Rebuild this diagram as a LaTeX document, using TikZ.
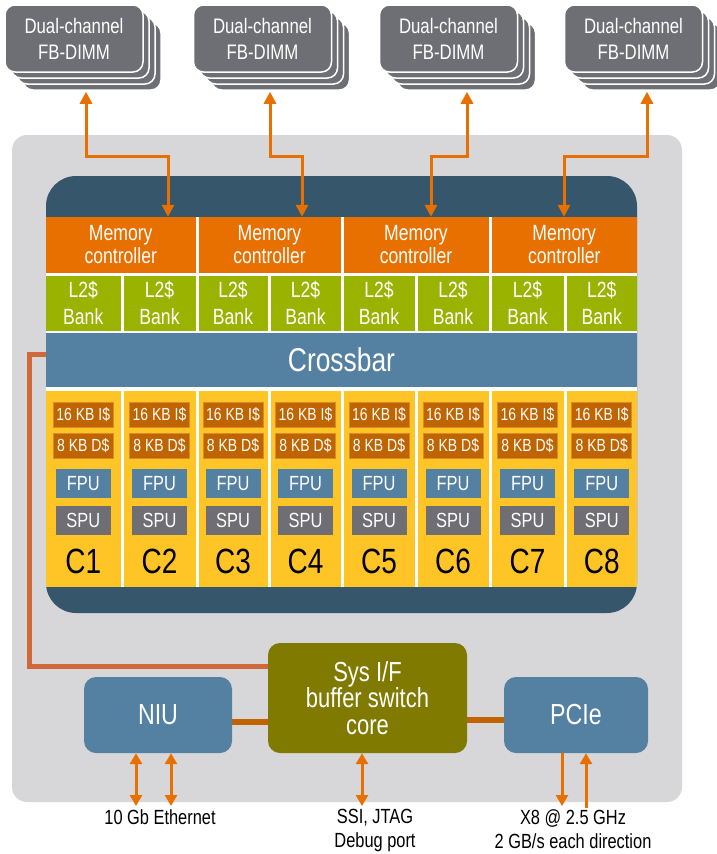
\documentclass[tikz,border=0pt]{standalone}
\usepackage{fontspec}
\setmainfont{Liberation Sans}[FakeStretch=0.8]
\usetikzlibrary{arrows.meta, shadows}

\definecolor{pkggrey}{RGB}{215,215,218}
\definecolor{panelblue}{RGB}{54,86,108}
\definecolor{mcorange}{RGB}{232,112,0}
\definecolor{l2green}{RGB}{153,179,0}
\definecolor{xbarblue}{RGB}{84,128,162}
\definecolor{coreyellow}{RGB}{255,196,38}
\definecolor{cacheorange}{RGB}{192,100,0}
\definecolor{cacheedge}{RGB}{214,140,40}
\definecolor{spugrey}{RGB}{110,110,116}
\definecolor{dimmgrey}{RGB}{110,111,116}
\definecolor{sysolive}{RGB}{128,122,0}
\definecolor{wireorange}{RGB}{232,112,0}
\definecolor{sidewire}{RGB}{208,104,58}
\definecolor{busbrown}{RGB}{192,100,0}

\tikzset{
  dimm/.style = {rectangle, rounded corners=10pt, fill=dimmgrey, draw=white, line width=1.5pt,
    minimum width=138pt, minimum height=67pt, inner sep=0pt, text=white, align=center,
    font=\fontsize{21}{26}\selectfont,
    copy shadow={shadow xshift=18pt, shadow yshift=-18pt},
    copy shadow={shadow xshift=12pt, shadow yshift=-12pt},
    copy shadow={shadow xshift=6pt, shadow yshift=-6pt}},
  cell/.style = {rectangle, inner sep=0pt, text=white, align=center},
  mcbox/.style = {cell, fill=mcorange, minimum height=56pt, font=\fontsize{22}{23}\selectfont},
  l2box/.style = {cell, fill=l2green, minimum height=55pt, font=\fontsize{22}{27}\selectfont},
  xbarbox/.style = {cell, fill=xbarblue, minimum width=591pt, minimum height=54pt, font=\fontsize{33}{36}\selectfont},
  corebox/.style = {cell, fill=coreyellow, minimum height=196pt},
  cachebox/.style = {cell, fill=cacheorange, draw=cacheedge, line width=0.8pt,
    minimum width=60pt, minimum height=25pt, font=\fontsize{17.5}{18}\selectfont},
  fpubox/.style = {cell, fill=xbarblue, minimum width=55pt, minimum height=29pt, font=\fontsize{20.5}{21}\selectfont},
  spubox/.style = {cell, fill=spugrey, minimum width=55pt, minimum height=29pt, font=\fontsize{20.5}{21}\selectfont},
  corelabel/.style = {inner sep=0pt, text=black, font=\fontsize{35}{36}\selectfont},
  iobox/.style = {cell, fill=xbarblue, rounded corners=12pt, minimum width=148pt, minimum height=76pt,
    font=\fontsize{29}{30}\selectfont},
  sysbox/.style = {cell, fill=sysolive, rounded corners=12pt, minimum width=199pt, minimum height=110pt,
    font=\fontsize{27.5}{26.5}\selectfont},
  iolabel/.style = {inner sep=0pt, anchor=north, align=center, text=black, font=\fontsize{20.5}{24}\selectfont},
  memlink/.style = {draw=wireorange, line width=3pt, {Triangle[width=12pt,length=12pt]}-{Triangle[width=12pt,length=12pt]}},
  iolink/.style = {draw=wireorange, line width=3pt, >={Triangle[width=12pt,length=11pt]}},
  sidelink/.style = {draw=sidewire, line width=5pt},
  buslink/.style = {draw=busbrown, line width=6pt}
}

\begin{document}
\begin{tikzpicture}[x=1pt, y=-1pt]
  \useasboundingbox (0,0) rectangle (717,854);
  % package and die
  \fill [pkggrey, rounded corners=15pt] (12,135) rectangle (682,802);
  \fill [panelblue, rounded corners=30pt] (46,176) rectangle (637,613);
  \fill [white] (46,217) rectangle (637,587);

  % memory modules
  \foreach \k/\cx in {1/74, 2/262.5, 3/448.5, 4/633.5}
    \node [dimm] (dimm\k) at (\cx, 38.5) {Dual-channel\\FB-DIMM};

  % memory controllers
  \foreach \k/\xl/\xr in {1/46/195.5, 2/198.5/340.5, 3/343.5/488.5, 4/491.5/637}
    \node [mcbox, minimum width={(\xr-\xl)*1pt}] (mc\k) at ({(\xl+\xr)/2}, 245) {Memory\\controller};

  % L2 banks and cores
  \foreach \k/\xl/\xr in {1/46/120.5, 2/123.5/195.5, 3/198.5/267.5, 4/270.5/340.5,
                          5/343.5/414.5, 6/417.5/488.5, 7/491.5/563.5, 8/566.5/637} {
    \pgfmathsetmacro{\cx}{(\xl+\xr)/2}
    \node [l2box, minimum width={(\xr-\xl)*1pt}] (l2\k) at (\cx, 303) {L2\$\\Bank};
    \node [corebox, minimum width={(\xr-\xl)*1pt}] (core\k) at (\cx, 489) {};
    \node [cachebox] (ic\k) at (\cx, 414.5) {16 KB I\$};
    \node [cachebox] (dc\k) at (\cx, 445.5) {8 KB D\$};
    \node [fpubox] (fpu\k) at (\cx, 483.5) {FPU};
    \node [spubox] (spu\k) at (\cx, 520.5) {SPU};
    \node [corelabel] (clabel\k) at (\cx, 561) {C\k};
  }

  \node [xbarbox] (xbar) at (341.5, 360) {Crossbar};

  % system interface
  \node [sysbox] (sys) at (367.5, 698) {Sys I/F\\buffer switch\\core};
  \node [iobox] (niu) at (158, 715) {NIU};
  \node [iobox, minimum width=144pt] (pcie) at (576, 715) {PCIe};
  \node [iolabel] (eth) at (160, 809) {10 Gb Ethernet};
  \node [iolabel] (jtag) at (375, 809) {SSI, JTAG\\Debug port};
  \node [iolabel] (pcilink) at (573, 809) {X8 @ 2.5 GHz\\2 GB/s each direction};

  % links to memory
  \foreach \k/\od/\om in {1/12/47.25, 2/7.5/32.5, 3/18.5/15, 4/13.5/-0.25}
    \draw [memlink] ([shift={(\od pt,-19pt)}]dimm\k.south) -- ++(0,65) -| ([xshift=\om pt]mc\k.north);

  % crossbar to Sys I/F
  \coordinate (xb) at ([yshift=6pt]xbar.west);
  \coordinate (sb) at ([yshift=32pt]sys.west);
  \coordinate (lw) at (29, 0);
  \draw [sidelink] (xb) -- (xb -| lw) |- (sb);

  \coordinate (nb) at ([yshift=-7pt]niu.east);
  \draw [buslink] (nb) -- (nb -| sys.west);
  \coordinate (pb) at ([yshift=-5pt]pcie.west);
  \draw [buslink] (pb) -- (pb -| sys.east);

  % external ports
  \draw [iolink, <->] ([xshift=-22pt]niu.south) -- ([shift={(-24pt,3pt)}]eth.north);
  \draw [iolink, <->] ([xshift=13pt]niu.south) -- ([shift={(11pt,3pt)}]eth.north);
  \draw [iolink, <->] ([xshift=-5.5pt]sys.south) -- ([shift={(-13pt,3pt)}]jtag.north);
  \draw [iolink, ->] ([xshift=-14pt]pcie.south) -- ([shift={(-11pt,3pt)}]pcilink.north);
  \draw [iolink, <-] ([xshift=10pt]pcie.south) -- ([shift={(13pt,1pt)}]pcilink.north);
\end{tikzpicture}
\end{document}
